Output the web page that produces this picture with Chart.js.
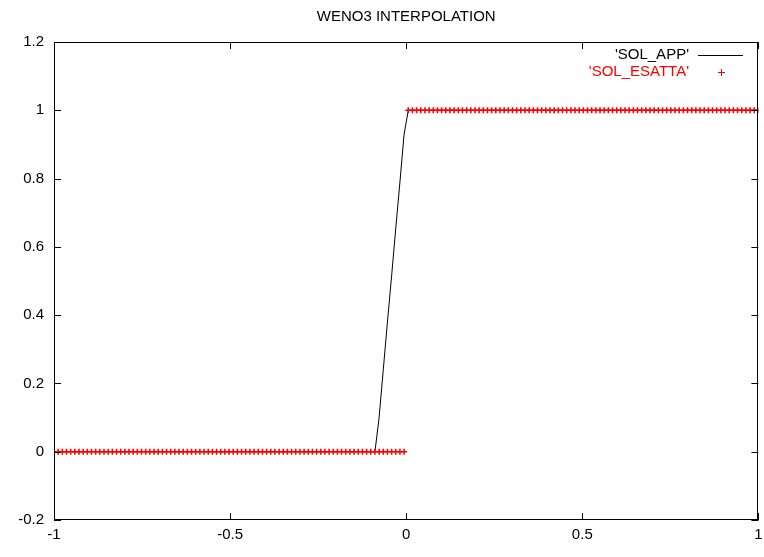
<!DOCTYPE html>
<html>
<head>
<meta charset="utf-8">
<script src="https://cdn.jsdelivr.net/npm/chart.js@4/dist/chart.umd.min.js"></script>
<style>
  html, body { margin: 0; padding: 0; background: #fff; }
  #wrap { width: 764px; height: 557px; }
</style>
</head>
<body>
<div id="wrap"><canvas id="plot" width="764" height="557"></canvas></div>
<script>
// grid points (170 nodes on [-1, 1])
const gridX = [
  -1.0000, -0.9882, -0.9763, -0.9645, -0.9527, -0.9408, -0.9290, -0.9172, -0.9053, -0.8935,
  -0.8817, -0.8698, -0.8580, -0.8462, -0.8343, -0.8225, -0.8107, -0.7988, -0.7870, -0.7751,
  -0.7633, -0.7515, -0.7396, -0.7278, -0.7160, -0.7041, -0.6923, -0.6805, -0.6686, -0.6568,
  -0.6450, -0.6331, -0.6213, -0.6095, -0.5976, -0.5858, -0.5740, -0.5621, -0.5503, -0.5385,
  -0.5266, -0.5148, -0.5030, -0.4911, -0.4793, -0.4675, -0.4556, -0.4438, -0.4320, -0.4201,
  -0.4083, -0.3964, -0.3846, -0.3728, -0.3609, -0.3491, -0.3373, -0.3254, -0.3136, -0.3018,
  -0.2899, -0.2781, -0.2663, -0.2544, -0.2426, -0.2308, -0.2189, -0.2071, -0.1953, -0.1834,
  -0.1716, -0.1598, -0.1479, -0.1361, -0.1243, -0.1124, -0.1006, -0.0888, -0.0769, -0.0651,
  -0.0533, -0.0414, -0.0296, -0.0178, -0.0059,
  0.0059, 0.0178, 0.0296, 0.0414, 0.0533, 0.0651, 0.0769, 0.0888, 0.1006, 0.1124,
  0.1243, 0.1361, 0.1479, 0.1598, 0.1716, 0.1834, 0.1953, 0.2071, 0.2189, 0.2308,
  0.2426, 0.2544, 0.2663, 0.2781, 0.2899, 0.3018, 0.3136, 0.3254, 0.3373, 0.3491,
  0.3609, 0.3728, 0.3846, 0.3964, 0.4083, 0.4201, 0.4320, 0.4438, 0.4556, 0.4675,
  0.4793, 0.4911, 0.5030, 0.5148, 0.5266, 0.5385, 0.5503, 0.5621, 0.5740, 0.5858,
  0.5976, 0.6095, 0.6213, 0.6331, 0.6450, 0.6568, 0.6686, 0.6805, 0.6923, 0.7041,
  0.7160, 0.7278, 0.7396, 0.7515, 0.7633, 0.7751, 0.7870, 0.7988, 0.8107, 0.8225,
  0.8343, 0.8462, 0.8580, 0.8698, 0.8817, 0.8935, 0.9053, 0.9172, 0.9290, 0.9408,
  0.9527, 0.9645, 0.9763, 0.9882, 1.0000
];

// 'SOL_APP' - WENO3 approximation
const solApp = [
  0, 0, 0, 0, 0, 0, 0, 0, 0, 0,
  0, 0, 0, 0, 0, 0, 0, 0, 0, 0,
  0, 0, 0, 0, 0, 0, 0, 0, 0, 0,
  0, 0, 0, 0, 0, 0, 0, 0, 0, 0,
  0, 0, 0, 0, 0, 0, 0, 0, 0, 0,
  0, 0, 0, 0, 0, 0, 0, 0, 0, 0,
  0, 0, 0, 0, 0, 0, 0, 0, 0, 0,
  0, 0, 0, 0, 0, 0, 0, 0, 0.10, 0.24,
  0.38, 0.515, 0.655, 0.79, 0.93,
  1, 1, 1, 1, 1, 1, 1, 1, 1, 1,
  1, 1, 1, 1, 1, 1, 1, 1, 1, 1,
  1, 1, 1, 1, 1, 1, 1, 1, 1, 1,
  1, 1, 1, 1, 1, 1, 1, 1, 1, 1,
  1, 1, 1, 1, 1, 1, 1, 1, 1, 1,
  1, 1, 1, 1, 1, 1, 1, 1, 1, 1,
  1, 1, 1, 1, 1, 1, 1, 1, 1, 1,
  1, 1, 1, 1, 1, 1, 1, 1, 1, 1,
  1, 1, 1, 1, 1
];

// 'SOL_ESATTA' - exact step
const solEsatta = [
  0, 0, 0, 0, 0, 0, 0, 0, 0, 0,
  0, 0, 0, 0, 0, 0, 0, 0, 0, 0,
  0, 0, 0, 0, 0, 0, 0, 0, 0, 0,
  0, 0, 0, 0, 0, 0, 0, 0, 0, 0,
  0, 0, 0, 0, 0, 0, 0, 0, 0, 0,
  0, 0, 0, 0, 0, 0, 0, 0, 0, 0,
  0, 0, 0, 0, 0, 0, 0, 0, 0, 0,
  0, 0, 0, 0, 0, 0, 0, 0, 0, 0,
  0, 0, 0, 0, 0,
  1, 1, 1, 1, 1, 1, 1, 1, 1, 1,
  1, 1, 1, 1, 1, 1, 1, 1, 1, 1,
  1, 1, 1, 1, 1, 1, 1, 1, 1, 1,
  1, 1, 1, 1, 1, 1, 1, 1, 1, 1,
  1, 1, 1, 1, 1, 1, 1, 1, 1, 1,
  1, 1, 1, 1, 1, 1, 1, 1, 1, 1,
  1, 1, 1, 1, 1, 1, 1, 1, 1, 1,
  1, 1, 1, 1, 1, 1, 1, 1, 1, 1,
  1, 1, 1, 1, 1
];

const xTicks = [-1, -0.5, 0, 0.5, 1];
const yTicks = [-0.2, 0, 0.2, 0.4, 0.6, 0.8, 1, 1.2];
const titleText = 'WENO3 INTERPOLATION';

const FONT = "'Liberation Sans', Arial, Helvetica, sans-serif";

const toPoints = (xs, ys) => xs.map((x, i) => ({ x: x, y: ys[i] }));

// gnuplot-like frame: full border box, inward ticks on all sides, title over the plot area
const framePlugin = {
    id: 'frame',
    afterDatasetsDraw(chart) {
        const ctx = chart.ctx;
        const a = chart.chartArea;
        const xs = chart.scales.x;
        const ys = chart.scales.y;
        const len = 7;
        ctx.save();
        ctx.strokeStyle = '#000';
        ctx.lineWidth = 1;
        ctx.beginPath();
        xTicks.forEach(v => {
            const px = Math.round(xs.getPixelForValue(v)) + 0.5;
            ctx.moveTo(px, a.bottom);
            ctx.lineTo(px, a.bottom - len);
            ctx.moveTo(px, a.top);
            ctx.lineTo(px, a.top + len);
        });
        yTicks.forEach(v => {
            const py = Math.round(ys.getPixelForValue(v)) + 0.5;
            ctx.moveTo(a.left, py);
            ctx.lineTo(a.left + len, py);
            ctx.moveTo(a.right, py);
            ctx.lineTo(a.right - len, py);
        });
        ctx.stroke();
        ctx.strokeRect(Math.round(a.left) + 0.5, Math.round(a.top) + 0.5,
            Math.round(a.right - a.left) - 1, Math.round(a.bottom - a.top) - 1);

        ctx.fillStyle = '#000';
        ctx.font = '15px ' + FONT;
        ctx.textAlign = 'center';
        ctx.textBaseline = 'middle';
        ctx.fillText(titleText, (a.left + a.right) / 2, 17);
        ctx.restore();
    }
};

// key in the top right corner: label, then sample to its right
const keyPlugin = {
    id: 'key',
    afterDraw(chart) {
        const ctx = chart.ctx;
        const sets = chart.data.datasets;
        const textRight = 689;
        const rows = [55, 72];
        ctx.save();
        ctx.font = '15px ' + FONT;
        ctx.textAlign = 'right';
        ctx.textBaseline = 'middle';
        ctx.lineWidth = 1;
        sets.forEach((ds, i) => {
            const y = rows[i];
            ctx.fillStyle = ds.borderColor;
            ctx.fillText("'" + ds.label + "'", textRight, y);
            ctx.strokeStyle = ds.borderColor;
            ctx.beginPath();
            if (ds.showLine === false) {
                ctx.moveTo(718, y + 0.5);
                ctx.lineTo(725, y + 0.5);
                ctx.moveTo(721.5, y - 3);
                ctx.lineTo(721.5, y + 4);
            } else {
                ctx.moveTo(698, y + 0.5);
                ctx.lineTo(743, y + 0.5);
            }
            ctx.stroke();
        });
        ctx.restore();
    }
};

Chart.defaults.font.family = FONT;
Chart.defaults.font.size = 15;
Chart.defaults.color = '#000';

const config = {
    type: 'scatter',
    data: {
        datasets: [
            {
                label: 'SOL_APP',
                data: toPoints(gridX, solApp),
                showLine: true,
                borderColor: '#000000',
                backgroundColor: '#000000',
                borderWidth: 1,
                pointRadius: 0,
                tension: 0,
                order: 2
            },
            {
                label: 'SOL_ESATTA',
                data: toPoints(gridX, solEsatta),
                showLine: false,
                borderColor: '#ff0000',
                backgroundColor: '#ff0000',
                pointStyle: 'cross',
                pointRadius: 3,
                borderWidth: 1.6,
                order: 1
            }
        ]
    },
    options: {
        responsive: false,
        animation: false,
        devicePixelRatio: 1,
        layout: {
            padding: { left: 0, right: 2, top: 42, bottom: 0 }
        },
        plugins: {
            legend: { display: false },
            tooltip: { enabled: false },
            title: { display: false }
        },
        scales: {
            x: {
                type: 'linear',
                min: -1,
                max: 1,
                border: { display: false },
                grid: { display: false, drawTicks: false },
                ticks: {
                    stepSize: 0.5,
                    padding: 6,
                    maxRotation: 0,
                    callback: v => String(Math.round(v * 10) / 10)
                },
                afterFit(scale) {
                    scale.height = 37;
                    scale.paddingLeft = 0;
                    scale.paddingRight = 0;
                }
            },
            y: {
                type: 'linear',
                min: -0.2,
                max: 1.2,
                border: { display: false },
                grid: { display: false, drawTicks: false },
                ticks: {
                    stepSize: 0.2,
                    padding: 10,
                    callback: v => String(Math.round(v * 10) / 10)
                },
                afterFit(scale) {
                    scale.width = 54;
                    scale.paddingTop = 0;
                    scale.paddingBottom = 0;
                }
            }
        }
    },
    plugins: [framePlugin, keyPlugin]
};

const plot = new Chart(document.getElementById('plot'), config);
</script>
</body>
</html>
